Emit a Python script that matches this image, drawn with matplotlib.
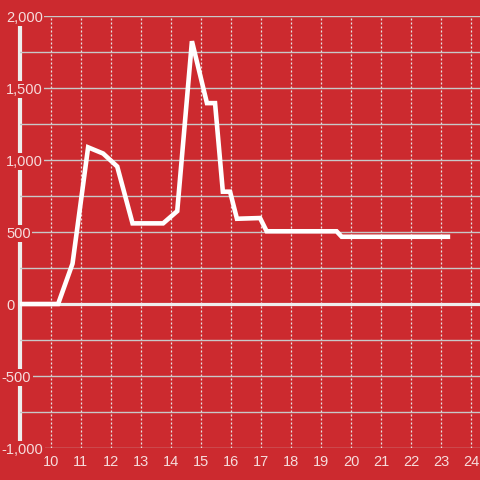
"""
White line on a red background, values in the thousands.
"""

import matplotlib.pyplot as plt
from matplotlib.transforms import ScaledTranslation

# Values
hours = [9.0, 10.24, 10.72, 11.24, 11.74, 12.21, 12.72, 13.74, 14.21, 14.7,
         15.2, 15.47, 15.73, 15.97, 16.2, 16.97, 17.19, 19.52, 19.69, 23.23]
values = [0, 0, 280, 1088, 1045, 955, 560, 560, 645, 1825,
          1395, 1395, 780, 780, 592, 597, 505, 505, 467, 467]

y_ticks = [-1000, -750, -500, -250, 0, 250, 500, 750, 1000, 1250, 1500, 1750, 2000]
y_labels = ["-1,000", "", "-500", "", "0", "", "500", "", "1,000", "", "1,500", "", "2,000"]
x_ticks = list(range(10, 25))

BG = "#cc2a2f"
TEXT = "#f6dcdc"


def main():
    """Entry point of the script."""
    plt.rcParams["font.family"] = ["Liberation Sans", "DejaVu Sans"]

    fig = plt.figure(figsize=(4.8, 4.8), dpi=100, facecolor=BG)
    ax = fig.add_axes([20 / 480, 32 / 480, 460 / 480, 432 / 480], facecolor=BG)

    # Grid: solid horizontal, dotted vertical
    ax.set_yticks(y_ticks)
    ax.set_yticklabels(y_labels)
    ax.set_xticks(x_ticks)
    ax.grid(axis="y", color="#c8c8c8", linewidth=1.0)
    ax.grid(axis="x", color="#e6e6e6", linewidth=0.9, linestyle=(0, (1.6, 1.6)))

    # Zero line and data
    ax.axhline(0, color="#eeeeee", linewidth=2.3, zorder=1.8)
    ax.plot(hours, values, color="white", linewidth=3.3,
            solid_joinstyle="miter", zorder=3)

    ax.set_xlim(8.97, 24.3)
    ax.set_ylim(-1000, 2000)

    # Axis styling
    for side in ("top", "right", "bottom"):
        ax.spines[side].set_visible(False)
    ax.spines["left"].set_color("#eeeeee")
    ax.spines["left"].set_linewidth(3)
    ax.spines["left"].set_bounds(-1000, 1944)
    ax.spines["left"].set_zorder(1)

    ax.tick_params(axis="both", length=0, labelsize=10.5, labelcolor=TEXT)
    ax.tick_params(axis="y", pad=10)
    ax.tick_params(axis="x", pad=5)

    # Negative labels hang their minus sign a little further left
    shift = ScaledTranslation(-4.5 / 100, 0, fig.dpi_scale_trans)
    for label in ax.get_yticklabels():
        label.set_horizontalalignment("left")
        label.set_bbox(dict(facecolor=BG, edgecolor="none", pad=1.0))
        if label.get_text().startswith("-"):
            label.set_transform(label.get_transform() + shift)

    fig.savefig("out.png", dpi=100, facecolor=BG)


if __name__ == "__main__":
    main()
